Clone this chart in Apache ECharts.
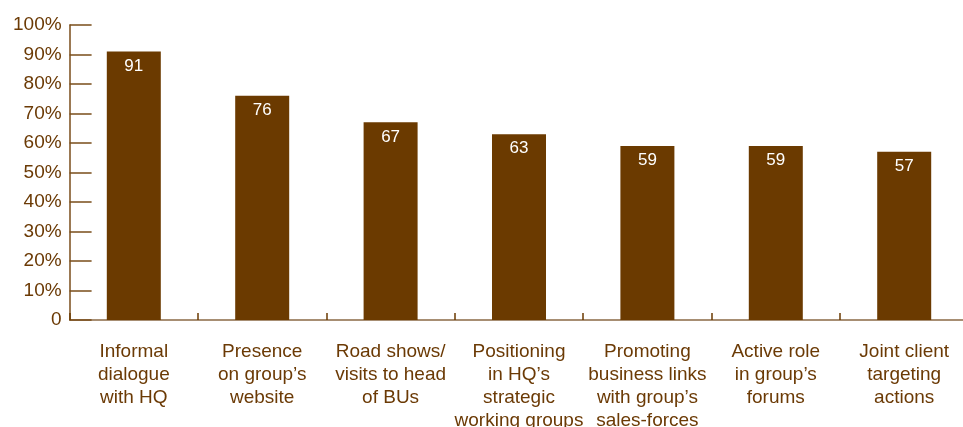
<!DOCTYPE html>
<html>
<head>
<meta charset="utf-8">
<script src="https://cdn.jsdelivr.net/npm/echarts@6/dist/echarts.min.js"></script>
<style>
  html, body { margin: 0; padding: 0; background: #ffffff; }
  #chart { width: 963px; height: 427px; }
</style>
</head>
<body>
<div id="chart"></div>
<script>
// Share of respondents per activity (%)
const categories = [
  'Informal\ndialogue\nwith HQ',
  'Presence\non group\u2019s\nwebsite',
  'Road shows/\nvisits to head\nof BUs',
  'Positioning\nin HQ\u2019s\nstrategic\nworking groups',
  'Promoting\nbusiness links\nwith group\u2019s\nsales-forces',
  'Active role\nin group\u2019s\nforums',
  'Joint client\ntargeting\nactions'
];
const values = [91, 76, 67, 63, 59, 59, 57];
const yTicks = [0, 10, 20, 30, 40, 50, 60, 70, 80, 90, 100];

const brown = '#6b3a00';
const textBrown = '#6b3a05';
const font = '"Liberation Sans Narrow", "Arial Narrow", "Liberation Sans", sans-serif';

const chart = echarts.init(document.getElementById('chart'), null, { renderer: 'canvas' });
chart.setOption({
  animation: false,
  grid: {
    left: 69.6, right: -5.4, top: 25, bottom: 107,
    containLabel: false,
    outerBoundsMode: 'none'
  },
  xAxis: {
    type: 'category',
    data: categories,
    axisLine: { lineStyle: { color: '#8a6a45', width: 1.5 } },
    axisTick: { show: true, inside: true, length: 7, lineStyle: { color: brown, width: 1.5 } },
    axisLabel: {
      interval: 0,
      margin: 20,
      color: textBrown,
      fontFamily: font,
      fontSize: 19,
      lineHeight: 23,
      align: 'center'
    }
  },
  yAxis: {
    type: 'value',
    min: yTicks[0],
    max: yTicks[yTicks.length - 1],
    interval: 10,
    splitLine: { show: false },
    axisLine: { show: true, lineStyle: { color: '#7a4d1a', width: 1.5 } },
    axisTick: { show: true, inside: true, length: 22, lineStyle: { color: '#7a4d1a', width: 1.5 } },
    axisLabel: {
      margin: 8,
      color: textBrown,
      fontFamily: font,
      fontSize: 19,
      formatter: v => (v === 0 ? '0' : v + '%')
    }
  },
  series: [{
    type: 'bar',
    data: values,
    barWidth: 54,
    itemStyle: { color: brown },
    label: {
      show: true,
      position: 'insideTop',
      distance: 6,
      color: '#ffffff',
      fontFamily: '"Liberation Sans", Arial, sans-serif',
      fontSize: 17
    }
  }]
});
</script>
</body>
</html>
